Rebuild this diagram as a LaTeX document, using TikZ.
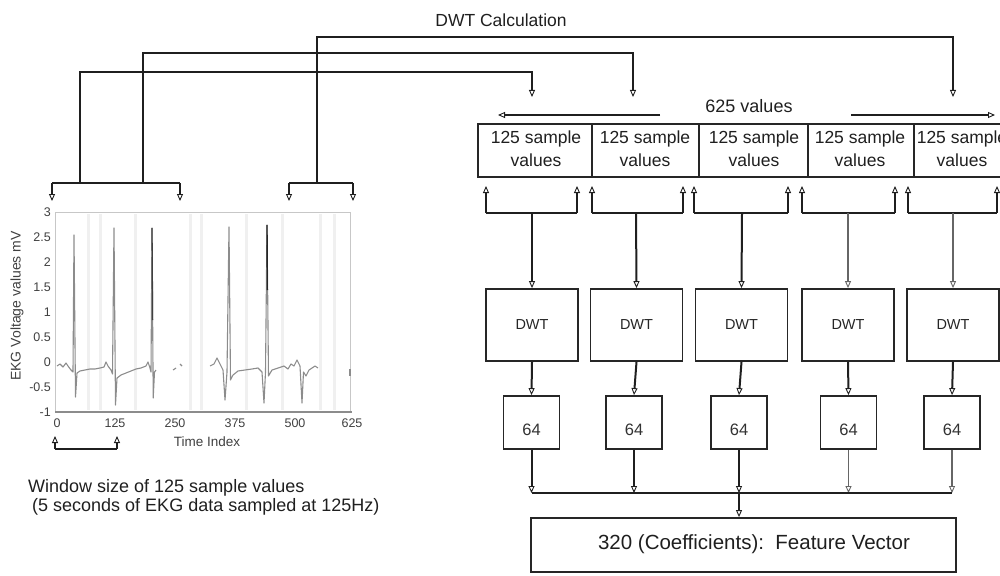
\documentclass[tikz,border=0pt]{standalone}
\usepackage{fontspec}
\setmainfont{Liberation Sans}
\usetikzlibrary{arrows.meta}
\begin{document}
\begin{tikzpicture}[x=1pt,y=-1pt,
  conn/.style={line width=2pt,draw=black!88},
  lightconn/.style={line width=1.3pt,draw=black!60},
  arr/.style={-{Triangle[open,length=7pt,width=6pt,line width=0.9pt]}},
  box/.style={draw=black!85,line width=1.8pt,inner sep=0pt},
  lab/.style={font=\fontsize{17.5}{23}\selectfont,text=black!88,inner sep=0pt},
  ticklab/.style={font=\fontsize{12.5}{14}\selectfont,text=black!75,inner sep=0pt},
  ecg/.style={draw=black!45,line width=1.1pt,line join=round},
  band/.style={draw=black!6,line width=3pt},
]
\useasboundingbox (0,0) rectangle (1000,575);
\clip (0,0) rectangle (1000,575);

% ---------------- title
\node[lab] (title) at (501,20) {DWT Calculation};

% ---------------- EKG chart
\foreach \x in {88,100,135,190,201,246,282,320,334}
  \draw[band] (\x,214) -- (\x,410);
\draw[black!22,line width=1pt] (55,212) rectangle (350,412);
\draw[black!45,line width=1.2pt] (55,412) -- (352,412);
\foreach \v/\y in {3/212,2.5/237,2/262,1.5/287,1/312,0.5/337,0/362,-0.5/387,-1/412}
  \node[ticklab,anchor=east] at (51,\y) {\v};
\foreach \v/\x in {0/57,125/115,250/175,375/235,500/295,625/352}
  \node[ticklab] at (\x,423) {\v};
\node[font=\fontsize{13.5}{15}\selectfont,text=black!75] (tidx) at (207,442) {Time Index};
\node[font=\fontsize{14}{16}\selectfont,text=black!75,rotate=90] (ylab) at (17,306) {EKG Voltage values mV};

\draw[ecg] (57,366) -- (60,364) -- (63,367) -- (66,363) -- (68,366) -- (71,370) -- (73,372)
  -- (74,235) -- (75.5,397) -- (77,373) -- (80,371) -- (85,370) -- (90,369) -- (95,369)
  -- (100,368) -- (104,367) -- (106,362) -- (108,366) -- (111,370) -- (112.5,374)
  -- (114,228) -- (115.5,405) -- (117,378) -- (121,375) -- (126,373) -- (131,371)
  -- (136,369) -- (141,368) -- (146,366) -- (148,362) -- (150,368) -- (151,372)
  -- (152,228) -- (153.2,398) -- (154.5,372) -- (156,370);
\draw[black!75,line width=1.3pt] (152,228) -- (152.6,320);
\draw[ecg] (173,370) -- (176,368);
\draw[ecg] (180,364) -- (182,366);
\draw[ecg] (210,366) -- (214,364) -- (217,358) -- (220,364) -- (223,370) -- (225,400)
  -- (227,372) -- (229,227) -- (230.5,380) -- (233,375) -- (238,371) -- (245,370)
  -- (252,369) -- (258,368) -- (262,372) -- (264,403) -- (265.5,372) -- (267,225)
  -- (268.5,376) -- (272,370) -- (278,368) -- (284,366) -- (288,369) -- (291,364)
  -- (294,366) -- (297,360) -- (300,366) -- (302,403) -- (303.5,372) -- (306,376)
  -- (309,370) -- (312,368) -- (315,366) -- (318,368);
\draw[black!85,line width=1.4pt] (267,225) -- (267.3,290);
\draw[ecg] (350,369) -- (350,376);

% window bracket
\coordinate (w1) at (55,449);
\coordinate (w2) at (117,449);
\coordinate (w1t) at (55,436);
\coordinate (w2t) at (117,436);
\draw[conn,line width=1.7pt] (w1) -- (w2);
\draw[conn,line width=1.7pt,arr] (w1) -- (w1t);
\draw[conn,line width=1.7pt,arr] (w2) -- (w2t);
\node[lab,font=\fontsize{18}{20}\selectfont,anchor=west] (win1) at (28,488) {Window size of 125 sample values};
\node[lab,font=\fontsize{18}{20}\selectfont,anchor=west] (win2) at (32,507) {(5 seconds of EKG data sampled at 125Hz)};

% ---------------- brackets above chart
\coordinate (lbL) at (52,183);
\coordinate (lbR) at (180,183);
\coordinate (rbL) at (289,183);
\coordinate (rbR) at (353,183);
\coordinate (lbLt) at (52,201);
\coordinate (lbRt) at (180,201);
\coordinate (rbLt) at (289,201);
\coordinate (rbRt) at (353,201);
\draw[conn] (lbL) -- (lbR);
\draw[conn] (rbL) -- (rbR);
\draw[conn,arr] (lbL) -- (lbLt);
\draw[conn,arr] (lbR) -- (lbRt);
\draw[conn,arr] (rbL) -- (rbLt);
\draw[conn,arr] (rbR) -- (rbRt);

% ---------------- top DWT calculation lines
\coordinate (jC) at (80,183);
\coordinate (kC) at (80,72);
\coordinate (tC) at (532,97);
\coordinate (jB) at (143,183);
\coordinate (kB) at (143,53);
\coordinate (tB) at (633,97);
\coordinate (jA) at (317,183);
\coordinate (kA) at (317,37);
\coordinate (tA) at (953,97);
\draw[conn,line width=2.2pt,arr] (jC) -- (kC) -| (tC);
\draw[conn,line width=2.2pt,arr] (jB) -- (kB) -| (tB);
\draw[conn,line width=2.2pt,arr] (jA) -- (kA) -| (tA);

% ---------------- 625 values
\node[lab,font=\fontsize{18}{20}\selectfont] (v625) at (749,106) {625 values};
\coordinate (la0) at (660,115);
\coordinate (la1) at (498,115);
\coordinate (ra0) at (851,115);
\coordinate (ra1) at (995,115);
\draw[conn,arr] (la0) -- (la1);
\draw[conn,arr] (ra0) -- (ra1);

% ---------------- sample boxes
\foreach \n/\cx/\w/\tx in {1/535/114/536, 2/645.5/107/645, 3/753.5/109/754, 4/861/106/860, 5/968/108/962}{
  \node[box,minimum width=\w pt,minimum height=53pt] (s\n) at (\cx,150.5) {};
  \node[lab,align=center] (st\n) at (\tx,149) {125 sample\\values};
}

% brackets under sample boxes and stems to DWT
\foreach \n/\l/\r/\c in {1/486/577/532, 2/592/683/636, 3/694/788/742, 4/802/895/848, 5/908/997/953}{
  \coordinate (bl\n) at (\l,213);
  \coordinate (br\n) at (\r,213);
  \coordinate (blt\n) at (\l,186);
  \coordinate (brt\n) at (\r,186);
  \coordinate (bc\n) at (\c,213);
  \draw[conn] (bl\n) -- (br\n);
  \draw[conn,arr] (bl\n) -- (blt\n);
  \draw[conn,arr] (br\n) -- (brt\n);
}

% DWT boxes and 64 boxes
\foreach \n/\c in {1/532, 2/636.5, 3/741.5, 4/848, 5/953}{
  \node[box,minimum width=92pt,minimum height=72pt,font=\fontsize{14.5}{16}\selectfont,text=black!85] (d\n) at (\c,325) {DWT};
}
\foreach \n/\c in {1/531.5, 2/634, 3/739, 4/848.5, 5/952}{
  \node[box,minimum width=56pt,minimum height=53pt] (c\n) at (\c,422.5) {};
  \node[lab,font=\fontsize{16.5}{18}\selectfont,text=black!80] (ct\n) at (\c,430) {64};
  \coordinate (bus\n) at (\c,493);
}
\draw[conn,arr] (bc1) -- (d1.north);
\draw[conn,arr] (bc2) -- (d2.north);
\draw[conn,arr] (bc3) -- (d3.north);
\draw[lightconn,arr] (bc4) -- (d4.north);
\draw[lightconn,arr] (bc5) -- (d5.north);
\foreach \n in {1,...,5}{
  \draw[conn,arr] (d\n.south) -- (c\n.north);
}
\foreach \n in {1,2,3}{
  \draw[conn,arr] (c\n.south) -- (bus\n);
}
\draw[lightconn,arr] (c4.south) -- (bus4);
\draw[lightconn,arr] (c5.south) -- (bus5);
\draw[conn] (bus1) -- (bus5);

% feature vector
\node[box,minimum width=425pt,minimum height=54pt] (fv) at (743.5,545) {};
\node[lab,font=\fontsize{20.5}{22}\selectfont] (fvt) at (754,544) {320 (Coefficients):\ \ Feature Vector};
\draw[conn,arr] (bus3) -- (bus3 |- fv.north);
\end{tikzpicture}
\end{document}
